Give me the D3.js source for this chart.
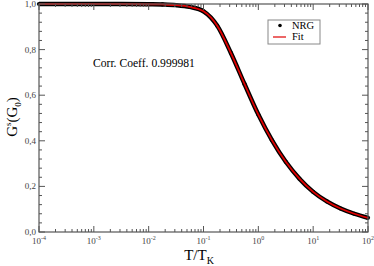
<!DOCTYPE html>
<html><head><meta charset="utf-8">
<script src="https://cdn.jsdelivr.net/npm/d3@7"></script>
<style>body{margin:0;background:#fff}svg{display:block}text{font-family:"Liberation Serif","DejaVu Serif",serif}</style>
</head><body>
<svg id="c" width="374" height="266"></svg>
<script>
// log10(T/TK) sample positions and readings
const logT = [-4,-3.5,-3,-2.5,-2,-1.75,-1.5,-1.25,-1,-0.75,-0.5,-0.25,0,0.25,0.5,0.75,1,1.25,1.5,1.75,2];
const nrgG = [1.0,1.0,1.0,1.0,0.999,0.998,0.995,0.987,0.968,0.905,0.785,0.648,0.515,0.402,0.308,0.234,0.176,0.134,0.103,0.080,0.062];
const fitG = [1.0,1.0,1.0,1.0,0.999,0.998,0.995,0.987,0.968,0.905,0.785,0.648,0.515,0.402,0.308,0.234,0.176,0.134,0.103,0.080,0.062];
const xTickExps = [-4,-3,-2,-1,0,1,2];
const yTicks = [0,0.2,0.4,0.6,0.8,1.0];
const yTickLabels = ["0,0","0,2","0,4","0,6","0,8","1,0"];
const corrText = "Corr. Coeff. 0.999981";
const legendNames = ["NRG","Fit"];

const svg = d3.select("#c");
const L=39,R=368,T=4,B=232;
const x = d3.scaleLog().domain([1e-4,1e2]).range([L,R]);
const y = d3.scaleLinear().domain([0,1]).range([B,T]);
const axCol = "#555";

// curves
const line = d3.line().x((d,i)=>x(Math.pow(10,logT[i]))).y(d=>y(d)).curve(d3.curveMonotoneX);
svg.append("path").attr("d",line(nrgG)).attr("fill","none").attr("stroke","#000").attr("stroke-width",4.4);
svg.append("g").selectAll("circle").data(nrgG).join("circle")
  .attr("cx",(d,i)=>x(Math.pow(10,logT[i]))).attr("cy",d=>y(d)).attr("r",2.1).attr("fill","#000");
svg.append("path").attr("d",line(fitG)).attr("fill","none").attr("stroke","#e00000").attr("stroke-width",1.8);

// frame
svg.append("rect").attr("x",L).attr("y",T).attr("width",R-L).attr("height",B-T)
  .attr("fill","none").attr("stroke",axCol).attr("stroke-width",1.2);

// x ticks (bottom & top, inward)
const gx = svg.append("g").attr("stroke",axCol).attr("stroke-width",1);
xTickExps.forEach((e,k)=>{
  const base = Math.pow(10,e);
  gx.append("line").attr("x1",x(base)).attr("x2",x(base)).attr("y1",B).attr("y2",B-6);
  gx.append("line").attr("x1",x(base)).attr("x2",x(base)).attr("y1",T).attr("y2",T+6);
  if(k<xTickExps.length-1){
    for(let m=2;m<=9;m++){
      const v=m*base;
      gx.append("line").attr("x1",x(v)).attr("x2",x(v)).attr("y1",B).attr("y2",B-3);
      gx.append("line").attr("x1",x(v)).attr("x2",x(v)).attr("y1",T).attr("y2",T+3);
    }
  }
});
const xl = svg.append("g").attr("fill","#444");
xTickExps.forEach(e=>{
  const t = xl.append("text").attr("x",x(Math.pow(10,e))).attr("y",244).attr("text-anchor","middle").attr("font-size",9);
  t.append("tspan").text("10");
  t.append("tspan").attr("font-size",6).attr("dy",-4).text(String(e));
});

// y ticks (left & right, inward)
const gy = svg.append("g").attr("stroke",axCol).attr("stroke-width",1);
for(let i=0;i<=25;i++){
  const v=i*0.04; const major = i%5===0; const len = major?6:3;
  gy.append("line").attr("x1",L).attr("x2",L+len).attr("y1",y(v)).attr("y2",y(v));
  gy.append("line").attr("x1",R).attr("x2",R-len).attr("y1",y(v)).attr("y2",y(v));
}
svg.append("g").attr("fill","#444").attr("font-size",9)
  .selectAll("text").data(yTicks).join("text")
  .attr("x",36).attr("y",d=>y(d)+3).attr("text-anchor","end").text((d,i)=>yTickLabels[i]);

// axis titles
const xt = svg.append("text").attr("x",199).attr("y",260).attr("text-anchor","middle")
  .attr("font-size",15).attr("fill","#000");
xt.append("tspan").text("T/T");
xt.append("tspan").attr("font-size",10).attr("dy",4).text("K");
const yt = svg.append("text").attr("transform","translate(17,117) rotate(-90)").attr("text-anchor","middle")
  .attr("font-size",15).attr("fill","#000");
yt.append("tspan").text("G");
yt.append("tspan").attr("font-size",9).attr("dy",-6).text("s");
yt.append("tspan").attr("dy",6).text("(G");
yt.append("tspan").attr("font-size",9).attr("dy",4).text("0");
yt.append("tspan").attr("dy",-4).text(")");

// annotation
svg.append("text").attr("x",93).attr("y",67).attr("font-size",11.6).attr("fill","#000").text(corrText);

// legend
const lg = svg.append("g");
lg.append("rect").attr("x",268).attr("y",20).attr("width",52).attr("height",24).attr("fill","#fff").attr("stroke","#888").attr("stroke-width",1);
lg.append("circle").attr("cx",280).attr("cy",25.5).attr("r",1.8).attr("fill","#000");
lg.append("line").attr("x1",273).attr("x2",286).attr("y1",37).attr("y2",37).attr("stroke","#e00000").attr("stroke-width",1.2);
lg.selectAll("text").data(legendNames).join("text").attr("x",292).attr("y",(d,i)=>29+i*11)
  .attr("font-size",10.5).attr("fill","#000").text(d=>d);
</script>
</body></html>
